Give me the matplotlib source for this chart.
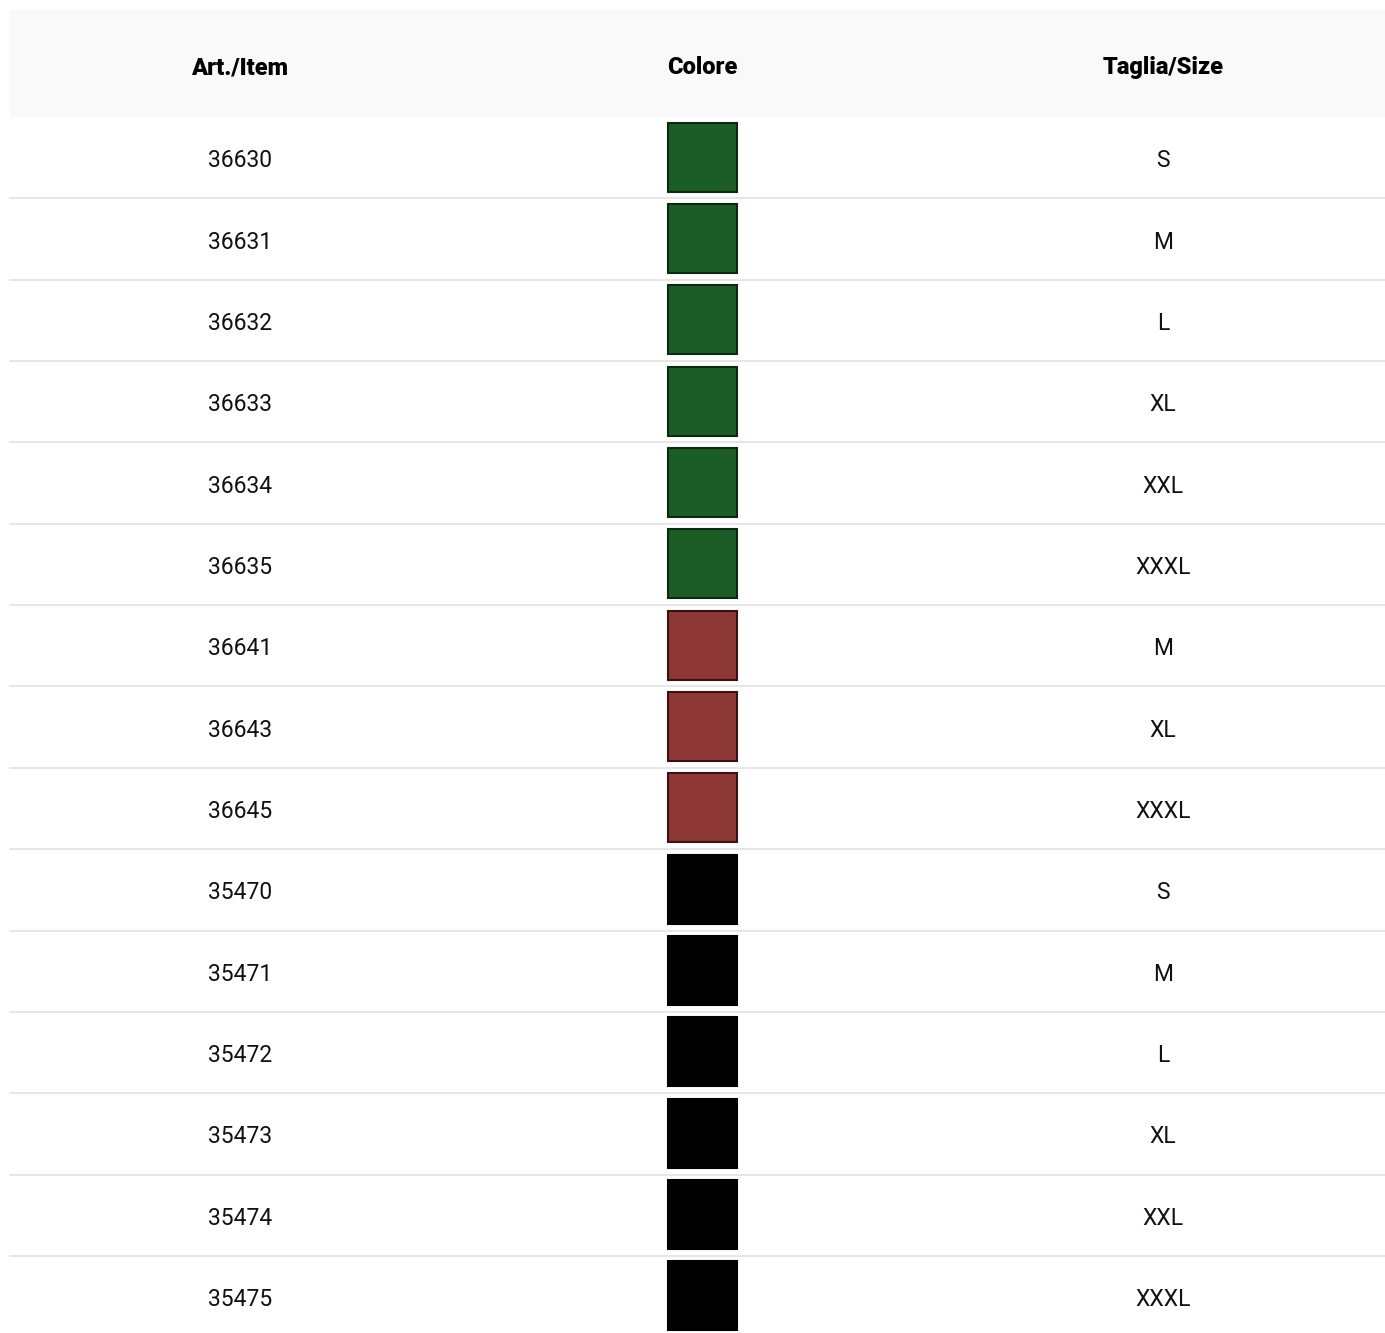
import matplotlib.pyplot as plt
from matplotlib.patches import Rectangle

# table data
headers = ['Art./Item', 'Colore', 'Taglia/Size']
items = ['36630', '36631', '36632', '36633', '36634', '36635',
         '36641', '36643', '36645',
         '35470', '35471', '35472', '35473', '35474', '35475']
sizes = ['S', 'M', 'L', 'XL', 'XXL', 'XXXL',
         'M', 'XL', 'XXXL',
         'S', 'M', 'L', 'XL', 'XXL', 'XXXL']
colors = ['green'] * 6 + ['red'] * 3 + ['black'] * 6

fill = {'green': '#1c5d27', 'red': '#8e3737', 'black': '#000000'}
edge = {'green': '#0c2a10', 'red': '#3a1212', 'black': '#000000'}

W, H = 1385, 1333
fig = plt.figure(figsize=(W / 100, H / 100), dpi=100)
ax = fig.add_axes([0, 0, 1, 1])
ax.set_xlim(0, W)
ax.set_ylim(H, 0)
ax.axis('off')

left, right = 10, W
head_top, head_bot = 10, 117
row_h = 81.35
col_x = [240, 702, 1163]

# header
ax.add_patch(Rectangle((left, head_top), right - left, head_bot - head_top,
                       facecolor='#f9f9f9', edgecolor='none'))
for x, h in zip(col_x, headers):
    ax.text(x, (head_top + head_bot) / 2 + 4, h, ha='center', va='center',
            fontsize=17, fontweight='black', family='Roboto', color='black')

# rows
for i, (it, c, s) in enumerate(zip(items, colors, sizes)):
    top = head_bot + i * row_h
    yc = top + row_h / 2 + 3
    ax.text(col_x[0], yc, it, ha='center', va='center', fontsize=16.5,
            family='Roboto', color='#111111')
    ax.text(col_x[2], yc, s, ha='center', va='center', fontsize=16.5,
            family='Roboto', color='#111111')
    ax.add_patch(Rectangle((col_x[1] - 34.5, top + 5.5), 69, 69,
                           facecolor=fill[c], edgecolor=edge[c], linewidth=1.5))
    if i < len(items) - 1:
        ax.plot([left, right], [top + row_h, top + row_h], color='#e4e4e4',
                linewidth=1.3)

fig.savefig('out.png', dpi=100)
